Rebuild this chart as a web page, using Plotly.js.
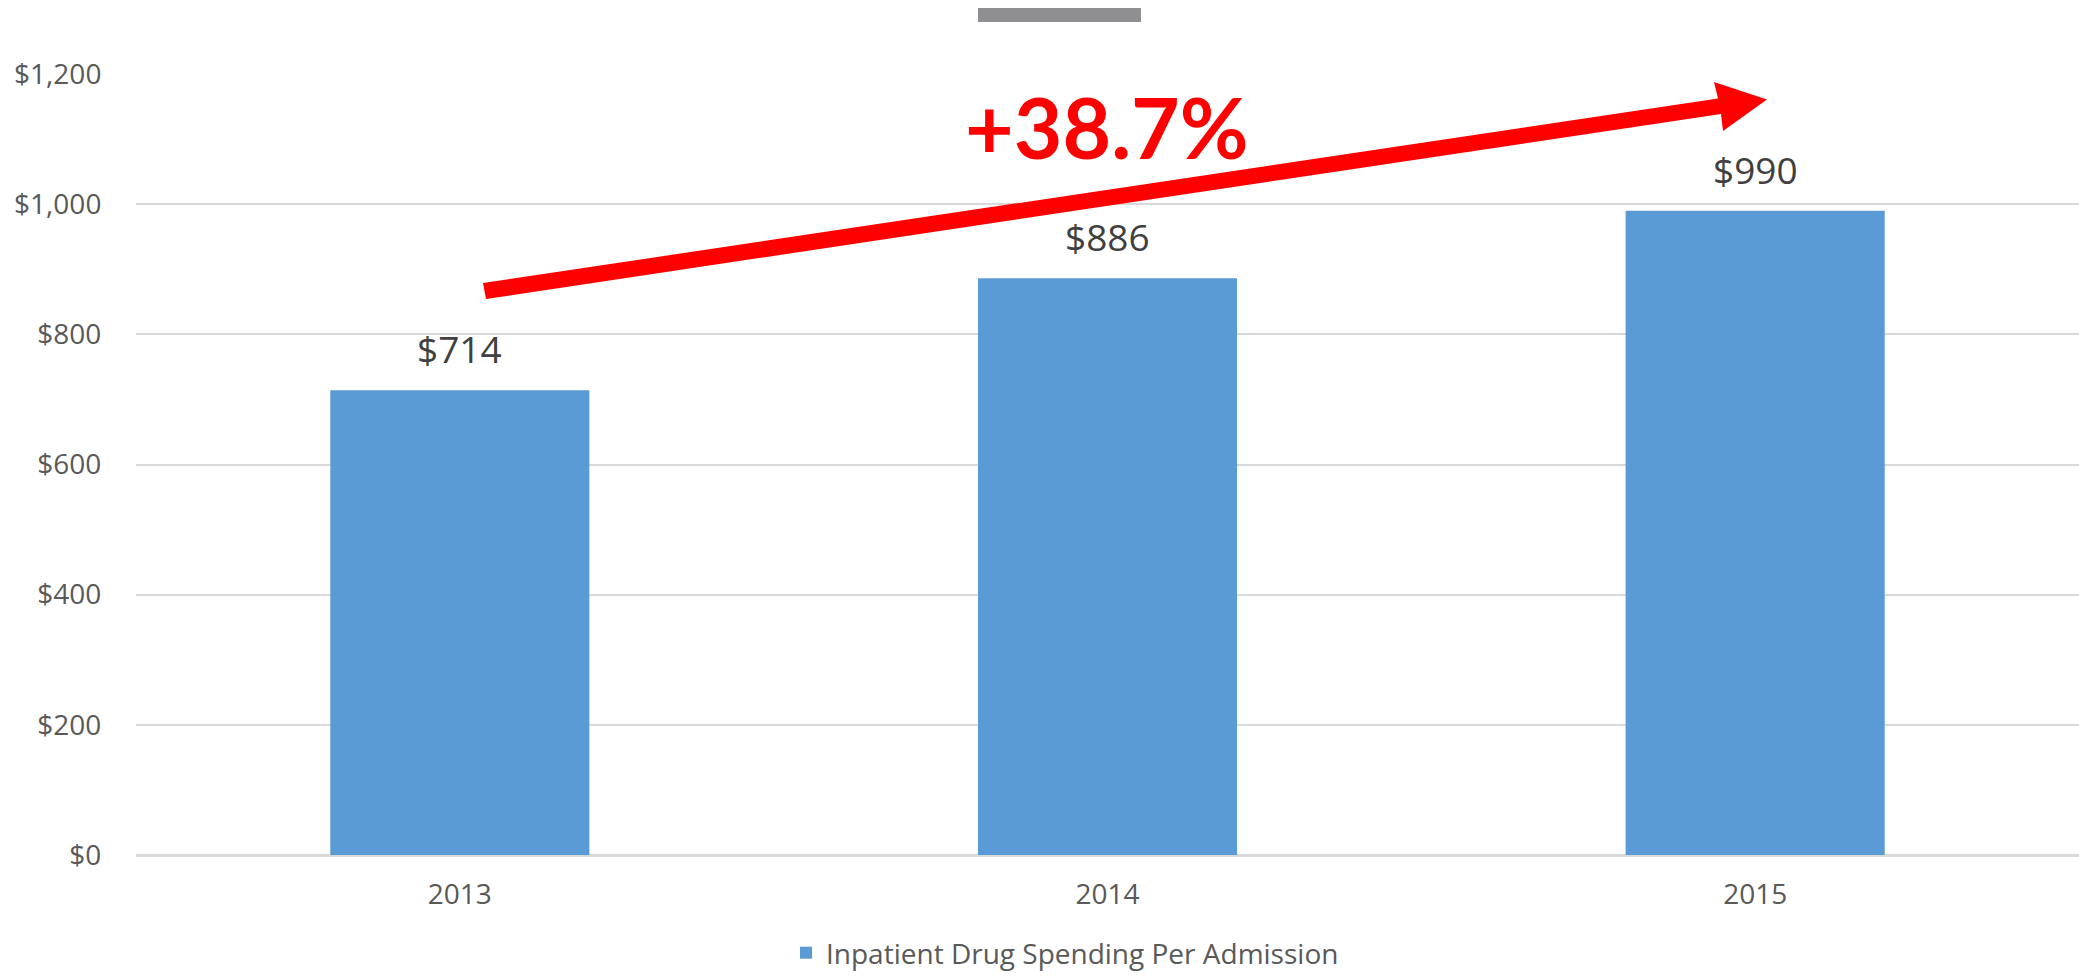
<!DOCTYPE html>
<html>
<head>
<meta charset="utf-8">
<script src="https://cdn.plot.ly/plotly-3.0.1.min.js"></script>
<style>html,body{margin:0;padding:0;background:#fff;}#chart{width:2079px;height:978px;}</style>
</head>
<body>
<div id="chart"></div>
<script>
// ---- data ----
const years = ["2013", "2014", "2015"];
const spending = [714, 886, 990];
const seriesName = "Inpatient Drug Spending Per Admission";
const changeLabel = "+38.7%";

// ---- layout helpers (pixel -> paper) ----
const W = 2079, H = 978;
const ML = 136, MR = 0, MT = 74, MB = 123;
const PW = W - ML - MR, PH = H - MT - MB;
const toPX = x => (x - ML) / PW;
const toPY = y => (H - MB - y) / PH;

const arrowPts = [[483,283],[1718,98.5],[1714,82],[1767,99.5],[1723,131],[1721,114],[486,299]];
const arrowPath = "M " + arrowPts.map(p => toPX(p[0]).toFixed(5) + "," + toPY(p[1]).toFixed(5)).join(" L ") + " Z";

const fmt = v => "$" + v.toLocaleString("en-US");

const trace = {
  type: "bar",
  x: years,
  y: spending,
  name: seriesName,
  marker: {color: "#5B9BD5"},
  hoverinfo: "none"
};

const layout = {
  width: W, height: H,
  margin: {l: ML, r: MR, t: MT, b: MB, pad: 0, autoexpand: false},
  paper_bgcolor: "#ffffff",
  plot_bgcolor: "#ffffff",
  bargap: 0.6,
  font: {family: "Open Sans, sans-serif", color: "#595959", size: 28},
  showlegend: true,
  legend: {
    orientation: "h",
    xref: "container", yref: "container",
    x: 1065 / W, xanchor: "center",
    y: 0, yanchor: "bottom",
    font: {size: 28, color: "#595959"}
  },
  xaxis: {
    type: "category",
    categoryorder: "array",
    categoryarray: years,
    range: [-0.5, years.length - 0.5],
    autorange: false,
    showgrid: false,
    showline: false,
    zeroline: false,
    ticks: "outside",
    ticklen: 14,
    tickcolor: "rgba(0,0,0,0)",
    tickfont: {size: 28, color: "#595959"}
  },
  yaxis: {
    range: [0, 1200],
    autorange: false,
    tickmode: "linear",
    tick0: 0,
    dtick: 200,
    tickprefix: "$",
    tickformat: ",",
    showgrid: true,
    gridcolor: "#D9D9D9",
    gridwidth: 2,
    zeroline: true,
    zerolinecolor: "#D9D9D9",
    zerolinewidth: 3,
    showline: false,
    ticks: "outside",
    ticklen: 28,
    tickcolor: "rgba(0,0,0,0)",
    tickfont: {size: 28, color: "#595959"}
  },
  annotations: years.map((yr, i) => ({
    x: i, y: spending[i], xref: "x", yref: "y",
    text: fmt(spending[i]),
    showarrow: false,
    yanchor: "bottom",
    yshift: 14,
    font: {size: 37, color: "#404040", family: "Open Sans, sans-serif"}
  })).concat([{
    x: toPX(1107), y: toPY(126), xref: "paper", yref: "paper",
    text: "<b>" + changeLabel + "</b>",
    showarrow: false,
    xanchor: "center", yanchor: "middle",
    font: {size: 84, color: "#FF0000", family: "Lato, sans-serif"}
  }]),
  shapes: [
    {type: "path", xref: "paper", yref: "paper", path: arrowPath,
     fillcolor: "#FF0000", line: {width: 0}},
    {type: "rect", xref: "paper", yref: "paper",
     x0: toPX(978), x1: toPX(1141), y0: toPY(22), y1: toPY(8),
     fillcolor: "#8F8E90", line: {width: 0}}
  ]
};

Plotly.newPlot("chart", [trace], layout, {displayModeBar: false, staticPlot: true});
</script>
</body>
</html>
